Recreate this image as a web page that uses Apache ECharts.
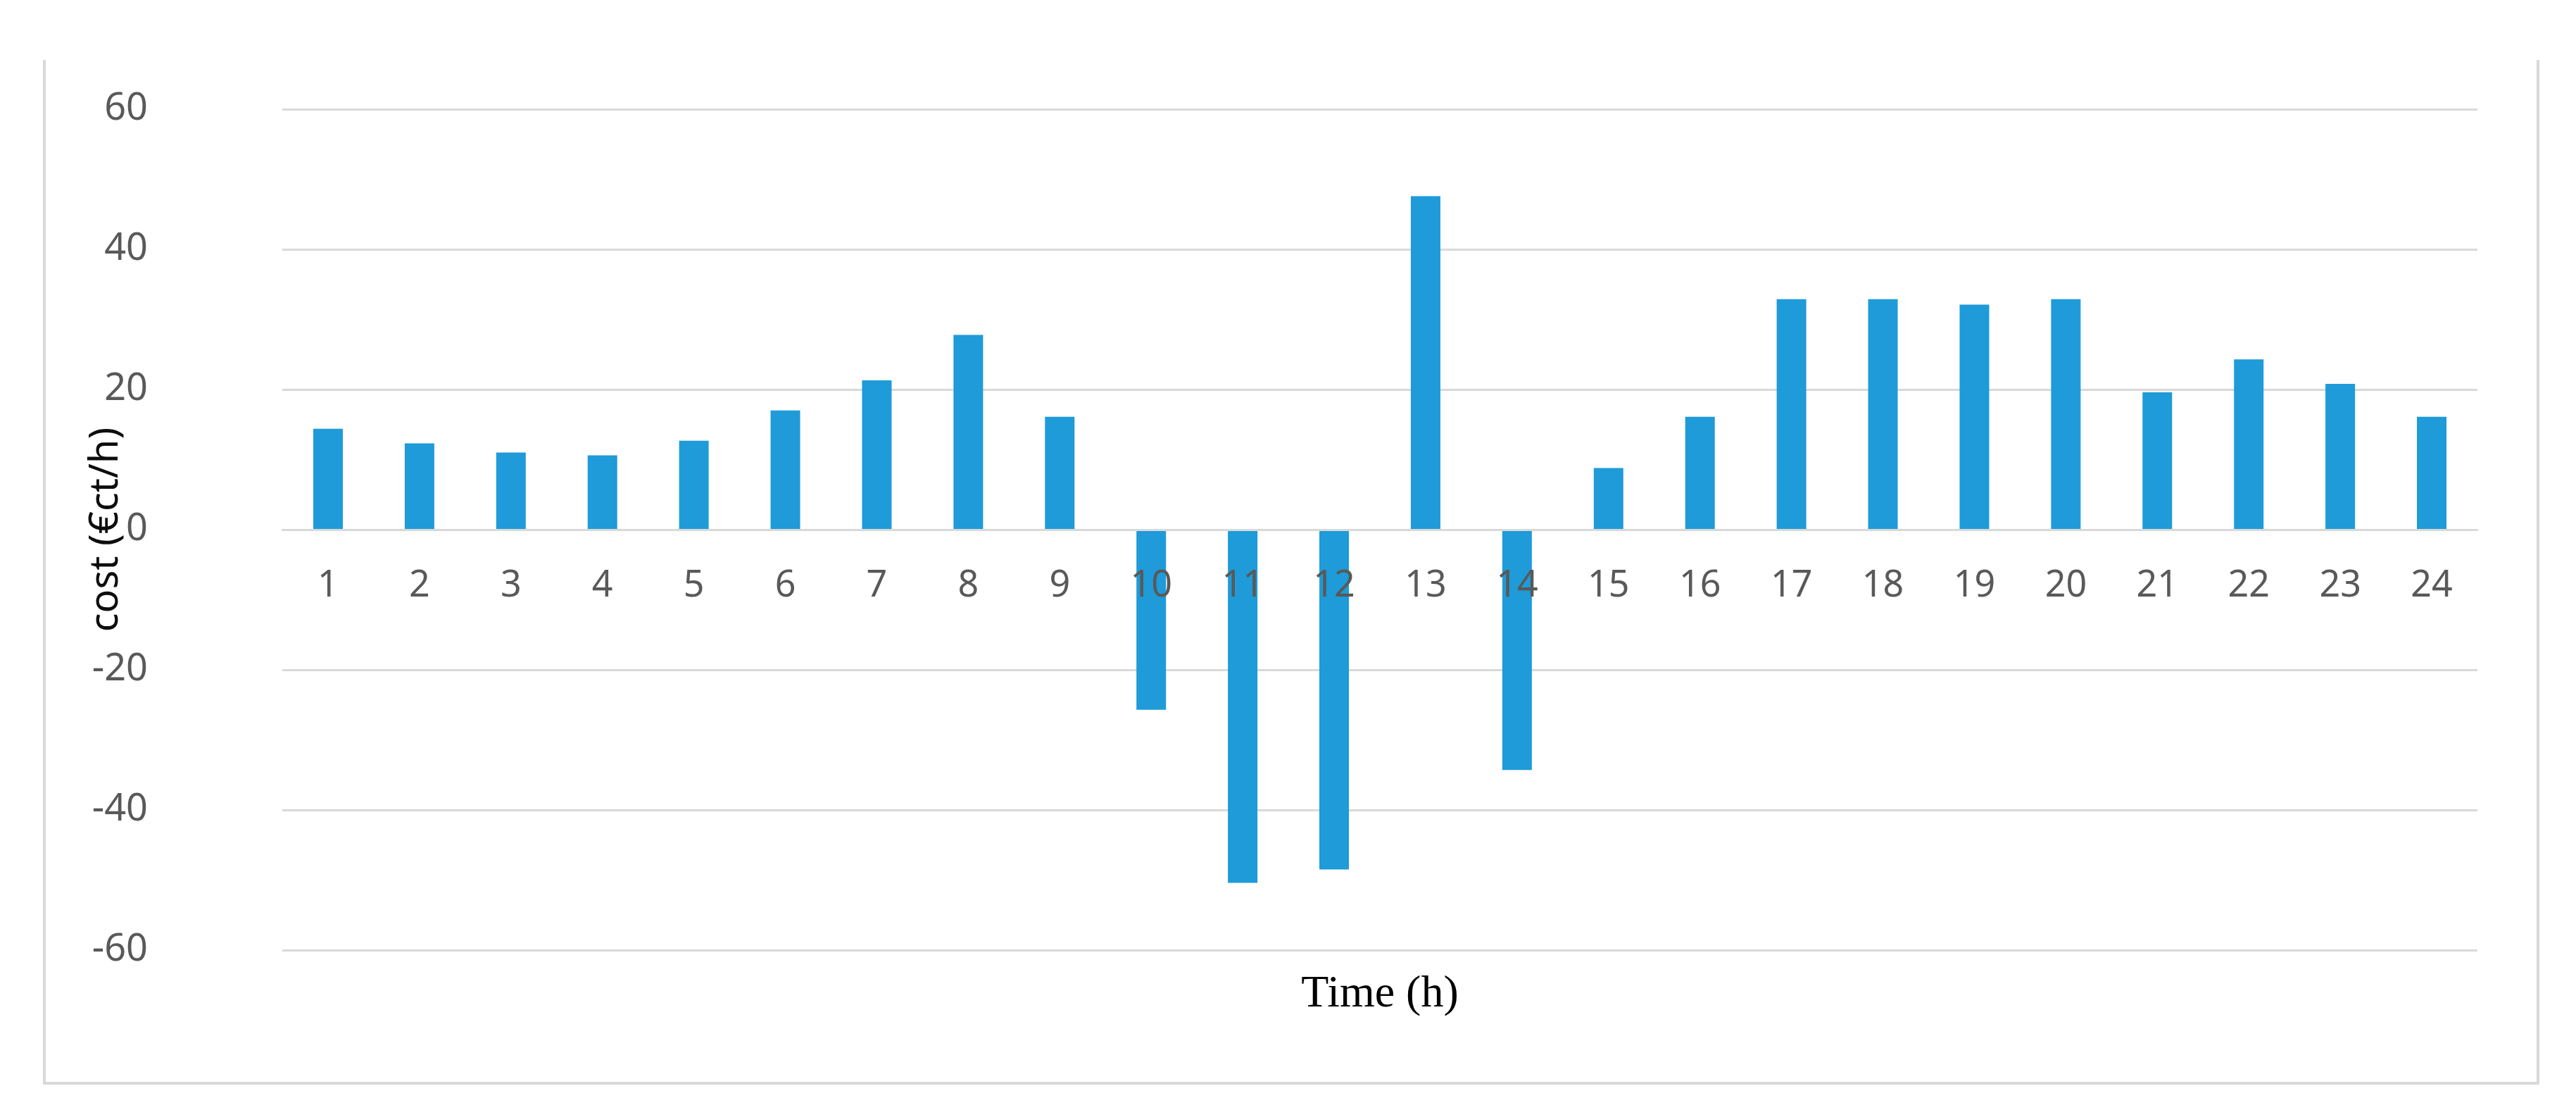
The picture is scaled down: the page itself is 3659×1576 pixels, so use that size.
<!DOCTYPE html>
<html>
<head>
<meta charset="utf-8">
<title>cost per hour</title>
<script src="https://cdn.jsdelivr.net/npm/echarts@6/dist/echarts.min.js"></script>
<style>
  html, body { margin: 0; padding: 0; background: #fff; }
  #chart { width: 3659px; height: 1576px; }
</style>
</head>
<body>
<div id="chart"></div>
<script>
// hours on the x axis
var hours = ['1', '2', '3', '4', '5', '6', '7', '8', '9', '10', '11', '12',
             '13', '14', '15', '16', '17', '18', '19', '20', '21', '22', '23', '24'];

// cost per hour (€ct/h)
var cost = [14.4, 12.3, 11.0, 10.6, 12.7, 17.0, 21.3, 27.8, 16.1, -25.7, -50.4, -48.5,
            47.6, -34.3, 8.8, 16.1, 32.9, 32.9, 32.1, 32.9, 19.6, 24.3, 20.8, 16.1];

var yTicks = { min: -60, max: 60, step: 20 };

var myChart = echarts.init(document.getElementById('chart'));

var gridColor = '#d9d9d9';
var labelFont = 'Noto Sans';
var gridTop = 155, gridBottom = 227;
var plotHeight = 1576 - gridTop - gridBottom;
// move the category axis up from the bottom edge to the zero line
var zeroShift = -plotHeight * (0 - yTicks.min) / (yTicks.max - yTicks.min);

var option = {
    backgroundColor: '#fff',
    animation: false,
    grid: {
        left: 401,
        right: 140,
        top: gridTop,
        bottom: gridBottom,
        outerBoundsMode: 'none'
    },
    xAxis: {
        type: 'category',
        data: hours,
        offset: zeroShift,
        z: 5,   // hour labels sit over the negative bars
        axisTick: { show: false },
        axisLine: { onZero: false, lineStyle: { color: gridColor, width: 3 } },
        axisLabel: {
            margin: 54,
            color: '#595959',
            fontSize: 52,
            fontFamily: labelFont
        },
        name: 'Time (h)',
        nameLocation: 'middle',
        nameGap: 628,
        nameMoveOverlap: false,
        nameTextStyle: {
            color: '#000',
            fontSize: 64,
            fontFamily: 'Liberation Serif'
        }
    },
    yAxis: {
        type: 'value',
        min: yTicks.min,
        max: yTicks.max,
        interval: yTicks.step,
        axisLine: { show: false },
        axisTick: { show: false },
        splitLine: { lineStyle: { color: gridColor, width: 3 } },
        axisLabel: {
            margin: 191,
            color: '#595959',
            fontSize: 54,
            fontFamily: labelFont
        },
        name: 'cost (€ct/h)',
        nameLocation: 'middle',
        nameGap: 222,
        nameMoveOverlap: false,
        nameTextStyle: {
            color: '#0d0d0d',
            fontSize: 56,
            fontFamily: labelFont
        }
    },
    series: [{
        type: 'bar',
        data: cost,
        barWidth: 42,
        itemStyle: { color: '#1e9bd8' }
    }],
    // thin frame round the figure (open at the top, as in the original)
    graphic: [{
        type: 'polyline',
        shape: { points: [[63, 85], [63, 1538], [3605, 1538], [3605, 85]] },
        style: { stroke: gridColor, lineWidth: 4, fill: null }
    }]
};

myChart.setOption(option);
</script>
</body>
</html>
